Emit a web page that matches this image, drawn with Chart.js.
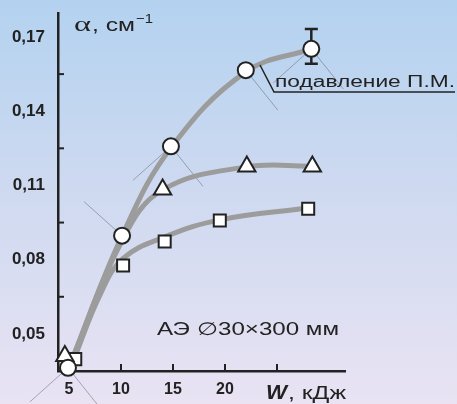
<!DOCTYPE html>
<html>
<head>
<meta charset="utf-8">
<script src="https://cdn.jsdelivr.net/npm/chart.js@4.4.1/dist/chart.umd.min.js"></script>
<style>
  html, body { margin: 0; padding: 0; }
  body {
    width: 457px; height: 404px; overflow: hidden;
    background: linear-gradient(to bottom, #b3d2f0 0%, #cdd9f0 45%, #e9e3f3 100%);
  }
</style>
</head>
<body>
<canvas id="alpha" width="457" height="404"></canvas>
<script>
// точки: W (кДж), alpha (см-1)
var circlePts   = [[4.9, 0.0363], [10.1, 0.0897], [14.8, 0.1258], [22.0, 0.1566], [28.3, 0.1652]];
var trianglePts = [[4.6, 0.0411], [14.0, 0.1084], [22.1, 0.1177], [28.4, 0.1177]];
var squarePts   = [[5.6, 0.0398], [10.2, 0.0776], [14.2, 0.0873], [19.5, 0.0958], [28.0, 0.1006]];

// погрешность последней точки (вверх / вниз)
var circleErrUp   = [0, 0, 0, 0, 0.008];
var circleErrDown = [0, 0, 0, 0, 0.006];

// сглаживающие кривые
var circleCurve   = [[4.9, 0.0355], [10.1, 0.0896], [14.8, 0.1252], [22.0, 0.1559], [28.3, 0.1652]];
var triangleCurve = [[4.9, 0.0355], [10.2, 0.0885], [14.0, 0.1082], [22.1, 0.1175], [28.4, 0.1178]];
var squareCurve   = [[5.3, 0.0379], [8.0, 0.066], [10.2, 0.0805], [14.2, 0.0892], [19.5, 0.0961], [28.0, 0.1009]];

var xTicks      = [5, 10, 15, 20, 25];
var xTickLabels = ['5', '10', '15', '20', ''];
var yTicks      = [0.05, 0.065, 0.08, 0.095, 0.11, 0.125, 0.14, 0.155, 0.17];
var yTickLabels = ['0,05', '', '0,08', '', '0,11', '', '0,14', '', '0,17'];

var ink = '#222';
var curveColor = '#9c9c9c';

function toXY(arr) {
  return arr.map(function(p) { return {x: p[0], y: p[1]}; });
}

// текст, растянутый по ширине
function drawWide(ctx, text, x, y, font, width) {
  ctx.save();
  ctx.font = font;
  var w = ctx.measureText(text).width;
  ctx.translate(x, y);
  ctx.scale(width / w, 1);
  ctx.fillText(text, 0, 0);
  ctx.restore();
}

var decor = {
  id: 'decor',
  beforeDatasetsDraw: function(chart) {
    var ctx = chart.ctx, xs = chart.scales.x, ys = chart.scales.y;
    var armsUp = [false, true, false, false, false];
    ctx.save();

    // тонкие линии у кружков
    ctx.strokeStyle = 'rgba(95,100,115,0.5)';
    ctx.lineWidth = 1;
    circlePts.forEach(function(p, i) {
      var px = xs.getPixelForValue(p[0]), py = ys.getPixelForValue(p[1]);
      var s = armsUp[i] ? -1 : 1;
      ctx.beginPath();
      ctx.moveTo(px, py); ctx.lineTo(px - 38, py + s * 34);
      ctx.moveTo(px, py); ctx.lineTo(px + 32, py + s * 40);
      ctx.stroke();
    });

    // планки погрешностей
    ctx.strokeStyle = ink;
    ctx.lineWidth = 2.5;
    circlePts.forEach(function(p, i) {
      if (!circleErrUp[i] && !circleErrDown[i]) return;
      var px = xs.getPixelForValue(p[0]);
      var top = ys.getPixelForValue(p[1] + circleErrUp[i]);
      var bot = ys.getPixelForValue(p[1] - circleErrDown[i]);
      ctx.beginPath();
      ctx.moveTo(px, top); ctx.lineTo(px, bot);
      ctx.moveTo(px - 6.5, top); ctx.lineTo(px + 6.5, top);
      ctx.moveTo(px - 6.5, bot); ctx.lineTo(px + 6.5, bot);
      ctx.stroke();
    });

    // внутренние засечки осей
    ctx.lineWidth = 2;
    var a = chart.chartArea;
    yTicks.forEach(function(v, i) {
      if (yTickLabels[i]) return;
      var py = ys.getPixelForValue(v);
      ctx.beginPath(); ctx.moveTo(a.left, py); ctx.lineTo(a.left + 6, py); ctx.stroke();
    });
    xTicks.forEach(function(v) {
      if (v === 5) return;
      var px = xs.getPixelForValue(v);
      ctx.beginPath(); ctx.moveTo(px, a.bottom); ctx.lineTo(px, a.bottom - 7); ctx.stroke();
    });
    ctx.restore();
  },
  afterDraw: function(chart) {
    var ctx = chart.ctx;
    ctx.save();
    ctx.fillStyle = ink;
    ctx.textBaseline = 'alphabetic';

    // подпись оси Y
    drawWide(ctx, '\u03b1', 74, 31, '22px "Liberation Serif", serif', 17);
    drawWide(ctx, ', см', 92, 31, '18px "Liberation Sans", Arial, sans-serif', 43);
    drawWide(ctx, '\u22121', 136, 23, '13px "Liberation Sans", Arial, sans-serif', 17);

    // подпись оси X
    drawWide(ctx, 'W', 266, 399, 'italic bold 21px "Liberation Sans", Arial, sans-serif', 21);
    drawWide(ctx, ', кДж', 288, 399, '18px "Liberation Sans", Arial, sans-serif', 58);

    // размеры трубки
    drawWide(ctx, 'АЭ \u220530\u00d7300 мм', 157, 335, '18px "Liberation Sans", Arial, sans-serif', 182);

    // выноска
    drawWide(ctx, 'подавление П.М.', 275, 86.5, '16px "Liberation Sans", Arial, sans-serif', 180);
    ctx.strokeStyle = ink;
    ctx.lineWidth = 1.5;
    ctx.beginPath();
    ctx.moveTo(260, 65); ctx.lineTo(274, 92); ctx.lineTo(455, 92);
    ctx.stroke();
    ctx.restore();
  }
};

function markerSet(pts, style, radius) {
  return {
    data: toXY(pts),
    pointStyle: style,
    pointRadius: radius,
    pointBackgroundColor: '#fff',
    pointBorderColor: ink,
    pointBorderWidth: 2,
    showLine: false,
    clip: false
  };
}

function curveSet(pts) {
  return {
    data: toXY(pts),
    showLine: true,
    borderColor: curveColor,
    borderWidth: 5,
    pointRadius: 0,
    tension: 0.4,
    clip: false
  };
}

var ctx = document.getElementById('alpha').getContext('2d');
new Chart(ctx, {
  type: 'scatter',
  data: {
    datasets: [
      markerSet(circlePts, 'circle', 8),
      markerSet(trianglePts, 'triangle', 10),
      markerSet(squarePts, 'rect', 8.5),
      curveSet(circleCurve),
      curveSet(triangleCurve),
      curveSet(squareCurve)
    ]
  },
  options: {
    responsive: false,
    animation: false,
    events: [],
    layout: { padding: { top: 13, right: 112, left: 0, bottom: 0 } },
    plugins: { legend: { display: false }, tooltip: { enabled: false } },
    scales: {
      x: {
        type: 'linear',
        min: 3.94,
        max: 31.54,
        afterFit: function(s) { s.height = 33; s.paddingLeft = 0; s.paddingRight = 0; },
        afterBuildTicks: function(s) { s.ticks = xTicks.map(function(v) { return {value: v}; }); },
        grid: { display: false, drawTicks: false },
        border: { display: true, color: ink, width: 2.5 },
        ticks: {
          autoSkip: false,
          maxRotation: 0,
          padding: 9,
          color: ink,
          font: { family: '"Liberation Sans", Arial, sans-serif', size: 16, weight: 'bold' },
          callback: function(v, i) { return xTickLabels[i]; }
        }
      },
      y: {
        type: 'linear',
        min: 0.035,
        max: 0.1797,
        afterFit: function(s) { s.width = 58; s.paddingTop = 0; s.paddingBottom = 0; },
        afterBuildTicks: function(s) { s.ticks = yTicks.map(function(v) { return {value: v}; }); },
        grid: { display: false, drawTicks: false },
        border: { display: true, color: ink, width: 2.5 },
        ticks: {
          autoSkip: false,
          padding: 13,
          color: ink,
          font: { family: '"Liberation Sans", Arial, sans-serif', size: 17, weight: 'bold' },
          callback: function(v, i) { return yTickLabels[i]; }
        }
      }
    }
  },
  plugins: [decor]
});
</script>
</body>
</html>
